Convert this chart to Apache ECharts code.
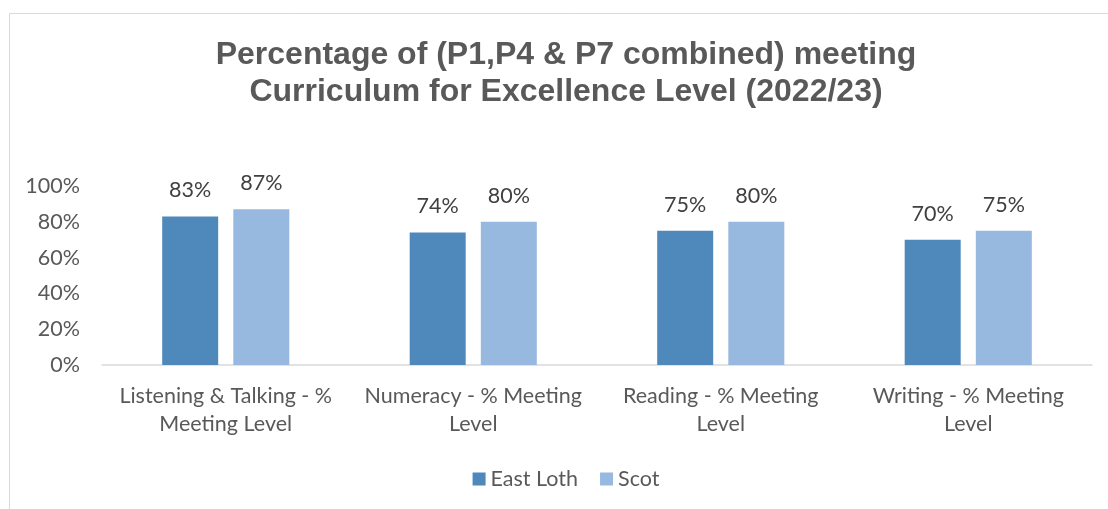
<!DOCTYPE html>
<html>
<head>
<meta charset="utf-8">
<script src="https://cdn.jsdelivr.net/npm/echarts@6/dist/echarts.min.js"></script>
<style>
  html, body { margin: 0; padding: 0; overflow: hidden; background: #fff; }
  #chart { width: 1132px; height: 509px; }
</style>
</head>
<body>
<div id="chart"></div>
<script>
var categories = [
  'Listening & Talking - %\nMeeting Level',
  'Numeracy - % Meeting\nLevel',
  'Reading - % Meeting\nLevel',
  'Writing - % Meeting\nLevel'
];
var eastLoth = [83, 74, 75, 70];
var scot = [87, 80, 80, 75];
var yTicks = [0, 20, 40, 60, 80, 100];

var chart = echarts.init(document.getElementById('chart'));

var labelFont = 'Lato, "Noto Sans", sans-serif';

var option = {
  animation: false,
  title: {
    text: 'Percentage of (P1,P4 & P7 combined) meeting\nCurriculum for Excellence Level (2022/23)',
    left: 'center',
    top: 32,
    textStyle: {
      fontFamily: '"Liberation Sans", Arial, sans-serif',
      fontSize: 32,
      fontWeight: 'bold',
      color: '#595959',
      lineHeight: 37
    }
  },
  graphic: [
    {
      type: 'rect',
      shape: { x: 9.5, y: 13.5, width: 1200, height: 600 },
      style: { fill: 'none', stroke: '#d9d9d9', lineWidth: 1 },
      silent: true
    }
  ],
  legend: {
    data: ['East Loth', 'Scot'],
    left: 'center',
    top: 463,
    itemWidth: 13,
    itemHeight: 13,
    itemGap: 22,
    icon: 'rect',
    textStyle: { fontFamily: labelFont, fontSize: 21.5, color: '#595959' }
  },
  grid: {
    left: 102,
    right: 40,
    top: 186,
    bottom: 509 - 365
  },
  xAxis: {
    type: 'category',
    data: categories,
    axisTick: { show: false },
    axisLine: { lineStyle: { color: '#d9d9d9', width: 1.5 } },
    axisLabel: {
      interval: 0,
      margin: 17,
      fontFamily: labelFont,
      fontSize: 21.5,
      lineHeight: 28,
      color: '#595959'
    }
  },
  yAxis: {
    type: 'value',
    min: yTicks[0],
    max: yTicks[yTicks.length - 1],
    interval: 20,
    splitLine: { show: false },
    axisLine: { show: false },
    axisTick: { show: false },
    axisLabel: {
      margin: 22,
      fontFamily: labelFont,
      fontSize: 21.5,
      color: '#595959',
      formatter: '{value}%'
    }
  },
  series: [
    {
      name: 'East Loth',
      type: 'bar',
      data: eastLoth,
      barWidth: 56,
      barGap: '27%',
      itemStyle: { color: '#4f89bb' },
      label: {
        show: true,
        position: 'top',
        distance: 15,
        formatter: '{c}%',
        fontFamily: labelFont,
        fontSize: 21.5,
        color: '#404040'
      }
    },
    {
      name: 'Scot',
      type: 'bar',
      data: scot,
      barWidth: 56,
      itemStyle: { color: '#98b9df' },
      label: {
        show: true,
        position: 'top',
        distance: 15,
        formatter: '{c}%',
        fontFamily: labelFont,
        fontSize: 21.5,
        color: '#404040'
      }
    }
  ]
};

chart.setOption(option);
</script>
</body>
</html>
